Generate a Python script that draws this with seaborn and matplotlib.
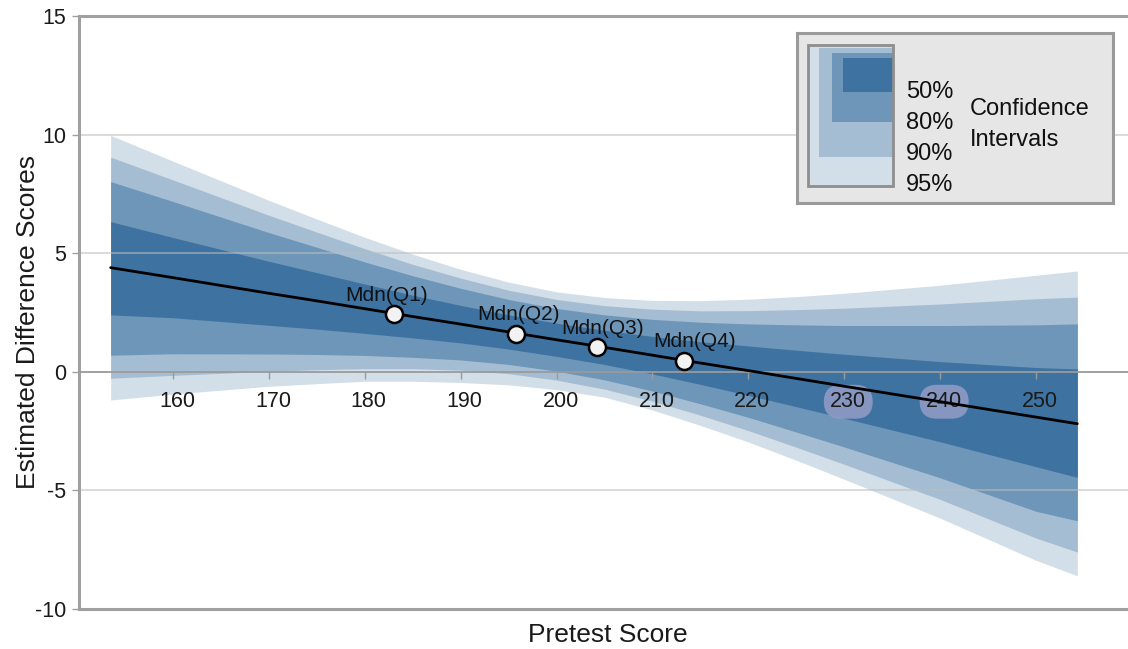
import numpy as np
import pandas as pd
import matplotlib
matplotlib.use("Agg")
import matplotlib.pyplot as plt
import matplotlib.transforms as mtransforms
from matplotlib.patches import Rectangle
import seaborn as sns

# ---------------- data ----------------
pretest = [153.5, 160, 170, 175, 180, 185, 190, 195, 200, 205, 210, 215, 220, 225,
           230, 240, 250, 254.3]
estimate = [4.39, 3.97, 3.31, 2.99, 2.66, 2.33, 2.01, 1.68, 1.35, 1.03, 0.70, 0.37,
            0.05, -0.28, -0.61, -1.26, -1.91, -2.19]

ci50_low = [2.40, 2.28, 1.96, 1.80, 1.62, 1.43, 1.22, 0.96, 0.65, 0.31, -0.09, -0.53,
            -0.99, -1.47, -1.96, -2.95, -4.00, -4.45]
ci50_up = [6.33, 5.66, 4.66, 4.18, 3.70, 3.23, 2.80, 2.40, 2.05, 1.75, 1.49, 1.27,
           1.09, 0.91, 0.74, 0.43, 0.18, 0.12]
ci80_low = [0.70, 0.76, 0.75, 0.73, 0.69, 0.61, 0.50, 0.31, 0.03, -0.34, -0.81, -1.35,
            -1.92, -2.54, -3.17, -4.47, -5.88, -6.28]
ci80_up = [8.02, 7.18, 5.87, 5.25, 4.63, 4.05, 3.52, 3.05, 2.67, 2.40, 2.21, 2.09,
           2.02, 1.98, 1.95, 1.95, 1.98, 2.02]
ci90_low = [-0.27, -0.15, 0.02, 0.09, 0.13, 0.13, 0.07, -0.08, -0.35, -0.73, -1.24, -1.83,
            -2.48, -3.18, -3.90, -5.38, -7.01, -7.60]
ci90_up = [9.05, 8.09, 6.60, 5.89, 5.19, 4.53, 3.95, 3.44, 3.05, 2.79, 2.64, 2.57,
           2.58, 2.62, 2.68, 2.86, 3.08, 3.15]
ci95_low = [-1.19, -0.94, -0.61, -0.50, -0.40, -0.40, -0.45, -0.55, -0.75, -1.07, -1.61, -2.26,
            -2.96, -3.73, -4.53, -6.17, -7.95, -8.60]
ci95_up = [9.97, 8.88, 7.23, 6.44, 5.67, 4.96, 4.32, 3.78, 3.37, 3.13, 3.01, 3.00,
           3.06, 3.17, 3.31, 3.65, 4.07, 4.25]

median_labels = ["Mdn(Q1)", "Mdn(Q2)", "Mdn(Q3)", "Mdn(Q4)"]
median_x = [183.0, 195.8, 204.2, 213.3]
median_y = [2.45, 1.58, 1.03, 0.46]

x_ticks = [160, 170, 180, 190, 200, 210, 220, 230, 240, 250]
y_ticks = [-10, -5, 0, 5, 10, 15]
highlight_ticks = [230, 240]
ci_levels = ["50%", "80%", "90%", "95%"]

# ---------------- style ----------------
sns.set_theme(style="white")
plt.rcParams["font.family"] = ["Liberation Sans", "DejaVu Sans"]
plt.rcParams["axes.unicode_minus"] = False
plt.rcParams["axes.axisbelow"] = False

c50, c80, c90, c95 = "#3e72a0", "#6d96b9", "#a5bdd2", "#d3dfe8"
gray = "#a0a0a0"

fig = plt.figure(figsize=(11.28, 6.49), dpi=100)
W, H = 1128, 649
ax = fig.add_axes([79 / W, 1 - 609 / H, (W - 79) / W, (609 - 16) / H])
ax.set_axisbelow(False)

# bands (widest first)
for lo, up, col in [(ci95_low, ci95_up, c95), (ci90_low, ci90_up, c90),
                    (ci80_low, ci80_up, c80), (ci50_low, ci50_up, c50)]:
    ax.fill_between(pretest, lo, up, color=col, lw=0, zorder=1)

# grid lines over bands
for yv in [5, 10, -5]:
    ax.axhline(yv, color="#bdbdbd", lw=1.1, alpha=0.7, zorder=1.5)

df_line = pd.DataFrame({"pretest": pretest, "estimate": estimate})
sns.lineplot(data=df_line, x="pretest", y="estimate", ax=ax, color="black",
             lw=2.0, zorder=4, estimator=None, sort=True)

df_med = pd.DataFrame({"x": median_x, "y": median_y, "lab": median_labels})
sns.scatterplot(data=df_med, x="x", y="y", ax=ax, s=150, color="#f2f2f2",
                edgecolor="black", linewidth=1.8, zorder=5)
offsets = [(-7, 18), (2, 20), (6, 19), (10, 19)]
for (xv, yv, lab), off in zip(zip(median_x, median_y, median_labels), offsets):
    ax.annotate(lab, (xv, yv), xytext=off, textcoords="offset pixels",
                ha="center", va="center", fontsize=15, color="#111111", zorder=6)

ax.set_xlim(150.2, 150.2 + (W - 79) / 9.59)
ax.set_ylim(-10, 15)
ax.set_xticks(x_ticks)
ax.set_yticks(y_ticks)

# spines
ax.spines["right"].set_visible(False)
ax.spines["bottom"].set_position(("data", 0))
ax.spines["bottom"].set_color("#9a9a9a")
ax.spines["bottom"].set_linewidth(1.3)
for s in ["left", "top"]:
    ax.spines[s].set_color(gray)
    ax.spines[s].set_linewidth(2.2)
ax.axhline(-10, color=gray, lw=2.2, zorder=3, clip_on=False)

ax.tick_params(axis="x", direction="out", length=5, width=1, color="#9a9a9a",
               labelsize=15.5, pad=9, labelcolor="#1a1a1a", bottom=True)
ax.tick_params(axis="y", direction="out", length=5, width=1, color=gray,
               labelsize=15.5, pad=4, labelcolor="#1a1a1a", left=True)
ax.xaxis.set_zorder(3.5)

offset = mtransforms.ScaledTranslation(4 / 100, 0, fig.dpi_scale_trans)
for tick_val, lab in zip(x_ticks, ax.get_xticklabels()):
    lab.set_transform(lab.get_transform() + offset)
    if tick_val in highlight_ticks:
        lab.set_bbox(dict(boxstyle="round,pad=0.3,rounding_size=0.8",
                          fc="#939dc6", ec="none", alpha=0.85))

ax.set_xlabel("Pretest Score", fontsize=19, color="#1a1a1a", va="center")
ax.set_ylabel("Estimated Difference Scores", fontsize=19, color="#1a1a1a", va="center")
ax.xaxis.set_label_coords((608 - 79) / (W - 79), -(635 - 609) / (609 - 16))
ax.yaxis.set_label_coords(-(79 - 28) / (W - 79), (609 - 322) / (609 - 16))

# ---------------- legend box ----------------
lx0, lx1, ly0, ly1 = 797, 1113, 33, 203
lax = fig.add_axes([lx0 / W, 1 - ly1 / H, (lx1 - lx0) / W, (ly1 - ly0) / H])
lax.set_facecolor("#e6e6e6")
lax.set_xlim(lx0, lx1)
lax.set_ylim(ly1, ly0)
lax.set_xticks([])
lax.set_yticks([])
for s in lax.spines.values():
    s.set_color("#9a9a9a")
    s.set_linewidth(2.2)
boxes = [((808, 45), 85, 141, c95), ((819, 48), 74, 109, c90),
         ((832, 53), 61, 69, c80), ((843, 58), 50, 34, c50)]
for (x0, y0), w, h, col in boxes:
    lax.add_patch(Rectangle((x0, y0), w, h, fc=col, ec="none"))
lax.add_patch(Rectangle((808, 45), 85, 141, fc="none", ec="#8e8e8e", lw=2))
for lab, yv in zip(ci_levels, [92, 123, 154, 185]):
    lax.text(906, yv, lab, fontsize=17, va="center", ha="left", color="#111111")
lax.text(970, 109, "Confidence", fontsize=17, va="center", ha="left", color="#111111")
lax.text(970, 140, "Intervals", fontsize=17, va="center", ha="left", color="#111111")

fig.savefig("out.png", dpi=100)
